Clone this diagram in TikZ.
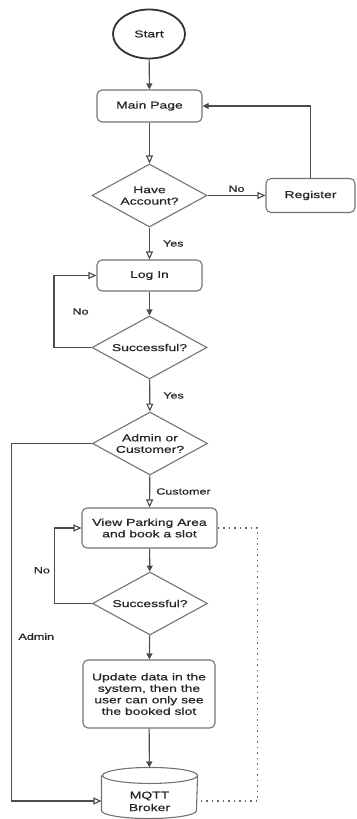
\documentclass[tikz,border=0pt]{standalone}
\usepackage{fontspec}
\newfontfamily\chartfont[FakeStretch=1.4,FakeBold=0.6]{Liberation Sans}
\usetikzlibrary{shapes.geometric,arrows.meta,positioning}

\begin{document}
\begin{tikzpicture}[x=1bp,y=-1bp,line width=1.1bp]
    \tikzstyle{every node}+=[font=\chartfont\fontsize{10}{11.5}\selectfont, text=black!85]
    \tikzstyle{stepbox}=[draw=black!55, rounded corners=5bp, fill=white, align=center, inner sep=0pt]
    \tikzstyle{decision}=[draw=black!55, diamond, aspect=1.8, fill=white, align=center, inner sep=0pt, minimum width=115bp, minimum height=63bp]
    \tikzstyle{flow}=[draw=black!70, -{Triangle[length=6bp,width=6bp]}]
    \tikzstyle{flowopen}=[draw=black!70, -{Triangle[open,length=8bp,width=7bp,fill=white]}]
    \tikzstyle{dotline}=[draw=black!60, line width=1.5bp, dash pattern=on 1.5bp off 4bp]
    \tikzstyle{lbl}=[font=\chartfont\fontsize{9}{10}\selectfont, inner sep=1bp]

    \useasboundingbox (0,0) rectangle (356,819);

    % blocks
    \node[draw=black!80, line width=1.8bp, ellipse, fill=white, minimum width=72bp, minimum height=49bp] (start) at (149,34) {Start};
    \node[stepbox, minimum width=105bp, minimum height=32bp] (main) at (149.5,106) {Main Page};
    \node[decision] (have) at (149.5,195.5) {Have\\Account?};
    \node[stepbox, minimum width=89bp, minimum height=34bp] (register) at (310.5,195.5) {Register};
    \node[stepbox, minimum width=105bp, minimum height=31bp] (login) at (149.5,275.5) {Log In};
    \node[decision] (okA) at (149.5,347.5) {Successful?};
    \node[decision] (role) at (150,443.5) {Admin or\\Customer?};
    \node[stepbox, minimum width=135bp, minimum height=40bp] (view) at (149.5,528) {View Parking Area\\and book a slot};
    \node[decision] (okB) at (150,603.5) {Successful?};
    \node[stepbox, minimum width=132bp, minimum height=68bp] (update) at (149,694) {Update data in the\\system, then the\\user can only see\\the booked slot};
    \node[minimum width=95bp, minimum height=50bp, inner sep=0pt] (mqtt) at (149.5,793)
        {\smash{\raisebox{-12bp}{\begin{tabular}{@{}c@{}}MQTT\\[1bp]Broker\end{tabular}}}};
    % drum outline round the broker
    \draw[black!55] ([yshift=-8bp]mqtt.north west) -- ([yshift=8bp]mqtt.south west)
        arc[start angle=180, end angle=360, x radius=47.5bp, y radius=8bp]
        -- ([yshift=-8bp]mqtt.north east)
        arc[start angle=0, end angle=360, x radius=47.5bp, y radius=8bp];

    % connectors
    \draw[flow] (start) -- (main);
    \draw[flowopen] (main) -- (have);
    \draw[flowopen] (have) -- node[lbl, above=2bp] {No} (register);
    \draw[flow] (register.north) |- (main.east);
    \draw[flowopen] (have) -- node[lbl, right=12bp] {Yes} (login);
    \draw[flow] (login) -- (okA);
    \draw[flowopen] (okA.west) -- ++(-37.5,0) |- node[lbl, pos=0.25, right=17bp] {No} (login.west);
    \draw[flowopen] (okA) -- node[lbl, right=12bp] {Yes} (role);
    \draw[flowopen] (role) -- node[lbl, right=5bp] {Customer} (view);
    \draw[flowopen] (role.west) -- ++(-80,0) |- node[lbl, pos=0.27, right=5bp] {Admin} ([yshift=-8bp]mqtt.west);
    \draw[flow] (view) -- (okB);
    \draw[flowopen] (okB.west) -- ++(-37.5,0) |- node[lbl, pos=0.22, left=3bp] {No} (view.west);
    \draw[flow] (okB) -- (update);
    \draw[flow] (update) -- (mqtt);
    \draw[dotline] (view.east) -- ++(40,0) |- ([yshift=-8bp]mqtt.east);
\end{tikzpicture}
\end{document}
